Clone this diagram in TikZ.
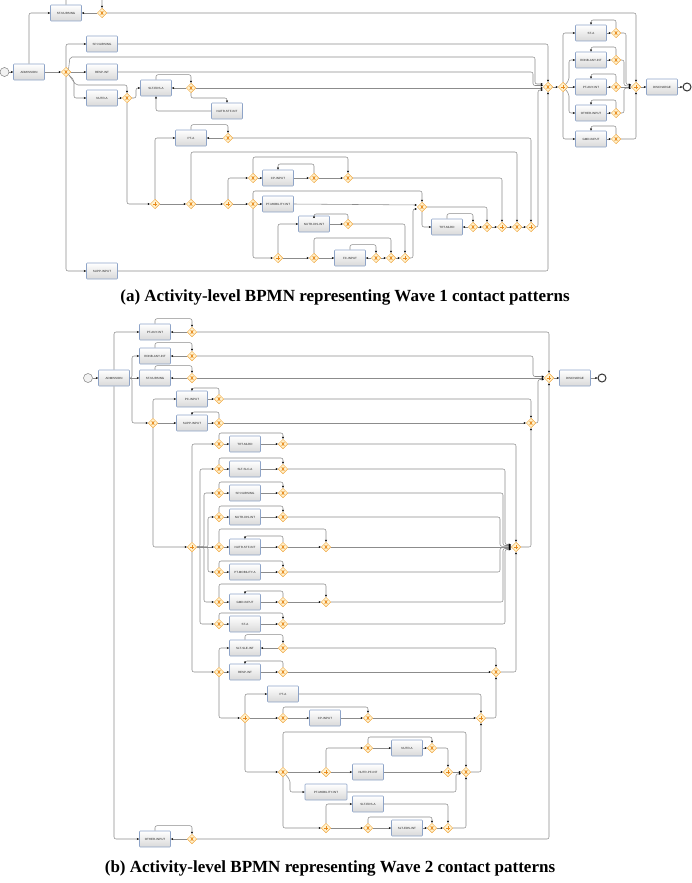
\documentclass[tikz,border=0pt]{standalone}
\usepackage{fontspec}
\setmainfont{Liberation Serif}
\setsansfont{Liberation Sans}
\usetikzlibrary{arrows.meta,shapes.geometric}
\definecolor{gwline}{HTML}{F0A43A}
\definecolor{gwfill}{HTML}{FFF3D0}
\definecolor{gwmark}{HTML}{E8891C}
\definecolor{boxline}{HTML}{8EA4C8}
\definecolor{flowgray}{HTML}{8C8C8C}
\begin{document}
\begin{tikzpicture}[x=1pt,y=-1pt,>={Stealth[length=2.4pt,width=2pt,color=black]},
  task/.style={rectangle, draw=boxline, line width=0.6pt, top color=white, bottom color=black!15, rounded corners=0.8pt, minimum width=31pt, minimum height=16pt, inner sep=0pt, text=black!85, font={\sffamily\fontsize{3}{3.4}\selectfont}},
  gate/.style={diamond, draw=gwline, fill=gwfill, line width=0.5pt, minimum size=9.5pt, inner sep=0pt},
  xgate/.style={gate, path picture={
    \draw[gwmark, line width=0.75pt] ([shift={(-1.3pt,-1.7pt)}]path picture bounding box.center) -- ([shift={(1.3pt,1.7pt)}]path picture bounding box.center);
    \draw[gwmark, line width=0.75pt] ([shift={(-1.3pt,1.7pt)}]path picture bounding box.center) -- ([shift={(1.3pt,-1.7pt)}]path picture bounding box.center);}},
  pgate/.style={gate, path picture={
    \draw[gwmark, line width=0.75pt] ([shift={(-2pt,0pt)}]path picture bounding box.center) -- ([shift={(2pt,0pt)}]path picture bounding box.center);
    \draw[gwmark, line width=0.75pt] ([shift={(0pt,-2pt)}]path picture bounding box.center) -- ([shift={(0pt,2pt)}]path picture bounding box.center);}},
  flow/.style={->, draw=flowgray, line width=0.55pt, rounded corners=2pt},
  startev/.style={circle, draw=gray, fill=black!5, line width=0.5pt, minimum size=9pt, inner sep=0pt},
  endev/.style={circle, draw=black!80, fill=white, line width=1pt, minimum size=8pt, inner sep=0pt}]
\useasboundingbox (0,0) rectangle (691,883);

% ---------------- Wave 1 ----------------
\draw (4.5,72) node[startev] (s1) {};
\draw (29,72) node[task] (adm1) {ADMISSION};
\draw (66,13) node[task] (stn1) {ST-NURSING};
\draw (102,13) node[xgate] (g1) {};
\draw (66,72) node[xgate] (g2) {};
\draw (102,44) node[task] (spn1) {SP-NURSING};
\draw (102,72) node[task] (resp1) {RESP-INT};
\draw (102,98) node[task] (nutra1) {NUTR-A};
\draw (127,98) node[xgate] (g3) {};
\draw (156,88) node[task] (slte1) {SLT-EDS-A};
\draw (191,88) node[xgate] (g4) {};
\draw (227,111) node[task] (nstf1) {NUTR-STF-INT};
\draw (155,204) node[pgate] (g5) {};
\draw (191,138) node[task] (pta1) {PT-A};
\draw (228,138) node[xgate] (g6) {};
\draw (191,204) node[xgate] (g7) {};
\draw (228,204) node[pgate] (g8) {};
\draw (253,178) node[xgate] (g9) {};
\draw (278,178) node[task] (cp1) {CP-INPUT};
\draw (314,178) node[xgate] (g10) {};
\draw (348,178) node[xgate] (g11) {};
\draw (253,204) node[xgate] (g12) {};
\draw (278,204) node[task] (ptmob1) {PT-MOBILITY-INT};
\draw (278,258) node[pgate] (g13) {};
\draw (314,224) node[task] (ndis1) {NUTR-DIS-INT};
\draw (348,224) node[xgate] (g14) {};
\draw (314,258) node[xgate] (g15) {};
\draw (350,258) node[task] (fc1) {FC-INPUT};
\draw (376,258) node[xgate] (g16) {};
\draw (391,258) node[xgate] (g17) {};
\draw (405,258) node[pgate] (g18) {};
\draw (422,207) node[xgate] (g19) {};
\draw (447,227) node[task] (trt1) {TRT-MLRD};
\draw (473,227) node[xgate] (g20) {};
\draw (487,227) node[xgate] (g21) {};
\draw (502,227) node[pgate] (g22) {};
\draw (517,227) node[xgate] (g23) {};
\draw (531,227) node[pgate] (g24) {};
\draw (102,271) node[task] (supp1) {SUPP-INPUT};
\draw (548,87) node[xgate] (g25) {};
\draw (563,87) node[pgate] (g26) {};
\draw (591,33) node[task] (sta1) {ST-A};
\draw (616,33) node[xgate] (g27) {};
\draw (591,60) node[task] (rdnb1) {RDNB-ANY-INT};
\draw (616,60) node[xgate] (g28) {};
\draw (591,87) node[task] (ptany1) {PT-ANY-INT};
\draw (616,87) node[xgate] (g29) {};
\draw (591,113) node[task] (oth1) {OTHER-INPUT};
\draw (616,113) node[xgate] (g30) {};
\draw (591,139) node[task] (gmd1) {GMD-INPUT};
\draw (616,139) node[xgate] (g31) {};
\draw (636,87) node[pgate] (g32) {};
\draw (662,87) node[task] (dis1) {DISCHARGE};
\draw (687,87) node[endev] (e1) {};

\draw[flow] (s1) -- (adm1);
\draw[flow] (adm1.north) |- (stn1.west);
\draw[flow] (stn1.north) -- ++(0,-10) -| (g1.north);
\draw[flow] (g1) -- (stn1);
\draw[flow] (g1.east) -| (g32.north);
\draw[flow] (adm1) -- (g2);
\draw[flow] (g2.north) |- (spn1.west);
\draw[flow] (spn1.east) -| (g25.north);
\draw[flow] (g2.north east) -- (70,57) -- (535,57) |- ([yshift=3pt]g25.west);
\draw[flow] (g2) -- (resp1);
\draw[flow] (resp1.east) -- (533,72) |- ([yshift=1.5pt]g25.west);
\draw[flow] (g2.south east) -- (74,80) |- (nutra1.west);
\draw[flow] (g2.south east) -- (76,85) -| (g3.north);
\draw[flow] (g2.south) |- (supp1.west);
\draw[flow] (supp1.east) -| (g25.south);
\draw[flow] (nutra1) -- (g3);
\draw[flow] (g3.east) -- ++(4,0) |- (slte1.west);
\draw[flow] (slte1.north) -- ++(0,-5) -| (g4.north);
\draw[flow] (g4) -- (slte1);
\draw[flow] (g4.east) -- ([yshift=-1pt]g25.west);
\draw[flow] (g4.south) -- (191,98) -| (nstf1.north);
\draw[flow] (nstf1.west) -| (slte1.south);
\draw[flow] (g3.south) |- (g5.west);
\draw[flow] (g5.north) |- (pta1.west);
\draw[flow] (pta1.north) -- ++(0,-5) -| (g6.north);
\draw[flow] (g6) -- (pta1);
\draw[flow] (g6.east) -| (g24.north);
\draw[flow] (g5) -- (g7);
\draw[flow] (g7) -- (g8);
\draw[flow] (g7.north) -- (191,152) -| (g23.north);
\draw[flow] (g8.north) |- (g9.west);
\draw[flow] (g9) -- (cp1);
\draw[flow] (cp1) -- (g10);
\draw[flow] (g10) -- (g11);
\draw[flow] (g9.north) -- (253,157) -| (g11.north);
\draw[flow] (g10.north) -- (314,164) -| (cp1.north);
\draw[flow] (g11.east) -| (g22.north);
\draw[flow] (g8) -- (g12);
\draw[flow] (g12) -- (ptmob1);
\draw[flow] (ptmob1.east) -- ([yshift=2pt]g19.west);
\draw[flow] (g12.north) -- (253,191) -| (g19.north);
\draw[flow] (g12.south) |- (g13.west);
\draw[flow] (g13.north) |- (ndis1.west);
\draw[flow] (ndis1) -- (g14);
\draw[flow] (g14.north) -- ++(0,-5) -| (ndis1.north);
\draw[flow] (g14.east) -| (g18.north);
\draw[flow] (g13) -- (g15);
\draw[flow] (g15) -- (fc1);
\draw[flow] (g15.north) -- (314,238) -| (g17.north);
\draw[flow] (fc1.north) -- ++(0,-5) -| (g16.north);
\draw[flow] (g16) -- (fc1);
\draw[flow] (g16) -- (g17);
\draw[flow] (g17) -- (g18);
\draw[flow] (g18.east) -- (413,258) |- ([yshift=-2pt]g19.west);
\draw[flow] (g19.east) -| (g21.north);
\draw[flow] (g19.south) |- (trt1.west);
\draw[flow] (trt1.north) -- ++(0,-5) -| (g20.north);
\draw[flow] (g20) -- (trt1);
\draw[flow] (g20) -- (g21);
\draw[flow] (g21) -- (g22);
\draw[flow] (g22) -- (g23);
\draw[flow] (g23) -- (g24);
\draw[flow] (g24.east) -- (538,227) |- ([yshift=-3pt]g25.west);
\draw[flow] (g25) -- (g26);
\draw[flow] (g26.north) |- (sta1.west);
\draw[flow] (g26.north east) -- (569,80) |- (rdnb1.west);
\draw[flow] (g26) -- (ptany1);
\draw[flow] (g26.south east) -- (569,94) |- (oth1.west);
\draw[flow] (g26.south) |- (gmd1.west);
\draw[flow] (sta1) -- (g27);
\draw[flow] (g27.north) -- ++(0,-8) -| (sta1.north);
\draw[flow] (rdnb1) -- (g28);
\draw[flow] (g28.north) -- ++(0,-8) -| (rdnb1.north);
\draw[flow] (ptany1) -- (g29);
\draw[flow] (g29.north) -- ++(0,-8) -| (ptany1.north);
\draw[flow] (oth1) -- (g30);
\draw[flow] (g30.north) -- ++(0,-8) -| (oth1.north);
\draw[flow] (gmd1) -- (g31);
\draw[flow] (g31.north) -- ++(0,-8) -| (gmd1.north);
\draw[flow] (g27.east) -- (626,33) |- ([yshift=2.5pt]g32.west);
\draw[flow] (g28.east) -- (624,60) |- ([yshift=1.2pt]g32.west);
\draw[flow] (g29) -- (g32);
\draw[flow] (g30.east) -- (624,113) |- ([yshift=-1.2pt]g32.west);
\draw[flow] (g31.east) -| (g32.south);
\draw[flow] (g32) -- (dis1);
\draw[flow] (dis1) -- (e1);

\draw (345,297) node[font={\bfseries\fontsize{17}{20}\selectfont}] (capa) {(a) Activity-level BPMN representing Wave 1 contact patterns};

% ---------------- Wave 2 ----------------
\draw (88,378) node[startev] (s2) {};
\draw (114,378) node[task] (adm2) {ADMISSION};
\draw (155,332) node[task] (ptany2) {PT-ANY-INT};
\draw (192,332) node[xgate] (h1) {};
\draw (155,356) node[task] (rdnb2) {RDNB-ANY-INT};
\draw (192,356) node[xgate] (h2) {};
\draw (155,378) node[task] (stn2) {ST-NURSING};
\draw (192,378) node[xgate] (h3) {};
\draw (153,423) node[xgate] (h4) {};
\draw (192,399) node[task] (pc2) {PC-INPUT};
\draw (219,399) node[xgate] (h5) {};
\draw (192,423) node[task] (supp2) {SUPP-INPUT};
\draw (219,423) node[xgate] (h6) {};
\draw (531,423) node[xgate] (h7) {};
\draw (549,378) node[pgate] (h0) {};
\draw (575,378) node[task] (dis2) {DISCHARGE};
\draw (602,378) node[endev] (e2) {};
\draw (192,547) node[pgate] (h8) {};
\draw (516,547) node[pgate] (hb) {};
% parallel rows
\draw (219,444) node[xgate] (x0) {}; \draw (245,444) node[task] (r0) {TRT-MLRD};      \draw (283,444) node[xgate] (y0) {};
\draw (219,469) node[xgate] (x1) {}; \draw (245,469) node[task] (r1) {SLT-SLC-A};     \draw (283,469) node[xgate] (y1) {};
\draw (219,493) node[xgate] (x2) {}; \draw (245,493) node[task] (r2) {SP-NURSING};    \draw (283,493) node[xgate] (y2) {};
\draw (219,517) node[xgate] (x3) {}; \draw (245,517) node[task] (r3) {NUTR-DIS-INT};  \draw (283,517) node[xgate] (y3) {};
\draw (219,547) node[xgate] (x4) {}; \draw (245,547) node[task] (r4) {NUTR-STF-INT};  \draw (283,547) node[xgate] (y4) {};
\draw (219,572) node[xgate] (x5) {}; \draw (245,572) node[task] (r5) {PT-MOBILITY-A}; \draw (283,572) node[xgate] (y5) {};
\draw (219,602) node[xgate] (x6) {}; \draw (245,602) node[task] (r6) {GMD-INPUT};     \draw (283,602) node[xgate] (y6) {};
\draw (219,624) node[xgate] (x7) {}; \draw (245,624) node[task] (r7) {ST-A};          \draw (283,624) node[xgate] (y7) {};
\draw (326,547) node[xgate] (z4) {};
\draw (326,602) node[xgate] (z6) {};
\draw (245,648) node[task] (slse2) {SLT-SLE-INT};
\draw (283,648) node[xgate] (w1) {};
\draw (219,672) node[xgate] (h9) {};
\draw (245,672) node[task] (resp2) {RESP-INT};
\draw (283,672) node[xgate] (w2) {};
\draw (496,672) node[xgate] (h10) {};
\draw (245,718) node[pgate] (h11) {};
\draw (283,694) node[task] (pta2) {PT-A};
\draw (283,718) node[xgate] (h12) {};
\draw (325,718) node[task] (cp2) {CP-INPUT};
\draw (368,718) node[xgate] (h13) {};
\draw (481,718) node[pgate] (h14) {};
\draw (283,772) node[xgate] (h15) {};
\draw (326,772) node[pgate] (h16) {};
\draw (368,748) node[xgate] (h17) {};
\draw (407,748) node[task] (nutra2) {NUTR-A};
\draw (432,748) node[xgate] (h18) {};
\draw (368,772) node[task] (npf2) {NUTR-PF-INT};
\draw (448,772) node[pgate] (h19) {};
\draw (466,772) node[xgate] (h20) {};
\draw (326,792) node[task, minimum width=42pt] (ptmob2) {PT-MOBILITY-INT};
\draw (326,828) node[pgate] (h21) {};
\draw (368,804) node[task] (slte2) {SLT-EDS-A};
\draw (368,828) node[xgate] (h22) {};
\draw (407,828) node[task] (slti2) {SLT-EDS-INT};
\draw (432,828) node[xgate] (h23) {};
\draw (448,828) node[pgate] (h24) {};
\draw (155,839) node[task] (oth2) {OTHER-INPUT};
\draw (192,839) node[xgate] (h25) {};

\draw[flow] (s2) -- (adm2);
\draw[flow] (adm2.north) |- (ptany2.west);
\draw[flow] (adm2.south) |- (oth2.west);
\draw[flow] (adm2.east) -- (132,378) |- (rdnb2.west);
\draw[flow] (adm2) -- (stn2);
\draw[flow] (adm2.east) -- (132,378) |- (h4.west);
\draw[flow] (ptany2.north) -- ++(0,-5) -| (h1.north);
\draw[flow] (h1) -- (ptany2);
\draw[flow] (rdnb2.north) -- ++(0,-5) -| (h2.north);
\draw[flow] (h2) -- (rdnb2);
\draw[flow] (stn2.north) -- ++(0,-4) -| (h3.north);
\draw[flow] (h3) -- (stn2);
\draw[flow] (h1.east) -| (h0.north);
\draw[flow] (h2.east) -- (533,356) |- ([yshift=1.5pt]h0.west);
\draw[flow] (h3) -- (h0);
\draw[flow] (h7.east) -- (538,423) |- ([yshift=-1.5pt]h0.west);
\draw[flow] (h0) -- (dis2);
\draw[flow] (dis2) -- (e2);
\draw[flow] (h4.north) |- (pc2.west);
\draw[flow] (h4) -- (supp2);
\draw[flow] (pc2) -- (h5);
\draw[flow] (h5.north) -- ++(0,-6) -| (pc2.north);
\draw[flow] (supp2) -- (h6);
\draw[flow] (h6.north) -- ++(0,-6) -| (supp2.north);
\draw[flow] (h5.east) -| (h7.north);
\draw[flow] (h6) -- (h7);
\draw[flow] (h4.south) |- (h8.west);
% fan out of the parallel split
\draw[flow] (h8.north) |- (x0.west);
\draw[flow] (h8.east) -- (200,547) |- (x1.west);
\draw[flow] (h8.east) -- (204,547) |- (x2.west);
\draw[flow] (h8.east) -- (208,547) |- (x3.west);
\draw[flow] (h8) -- (x4);
\draw[flow] (h8.east) -- (208,547) |- (x5.west);
\draw[flow] (h8.east) -- (204,547) |- (x6.west);
\draw[flow] (h8.east) -- (200,547) |- (x7.west);
\draw[flow] (h8.south) |- (h9.west);
\draw[flow] (x0) -- (r0); \draw[flow] (r0) -- (y0); \draw[flow] (x0.north) -- ++(0,-6) -| (y0.north);
\draw[flow] (x1) -- (r1); \draw[flow] (r1) -- (y1); \draw[flow] (x1.north) -- ++(0,-6) -| (y1.north);
\draw[flow] (x2) -- (r2); \draw[flow] (r2) -- (y2); \draw[flow] (x2.north) -- ++(0,-6) -| (y2.north);
\draw[flow] (x3) -- (r3); \draw[flow] (r3) -- (y3); \draw[flow] (x3.north) -- ++(0,-6) -| (y3.north);
\draw[flow] (x4) -- (r4); \draw[flow] (r4) -- (y4); \draw[flow] (y4) -- (z4);
\draw[flow] (x4.north) -- ++(0,-13) -| (z4.north); \draw[flow] (y4.north) -- ++(0,-6) -| (r4.north);
\draw[flow] (x5) -- (r5); \draw[flow] (r5) -- (y5); \draw[flow] (x5.north) -- ++(0,-6) -| (y5.north);
\draw[flow] (x6) -- (r6); \draw[flow] (r6) -- (y6); \draw[flow] (y6) -- (z6);
\draw[flow] (x6.north) -- ++(0,-13) -| (z6.north); \draw[flow] (y6.north) -- ++(0,-6) -| (r6.north);
\draw[flow] (x7) -- (r7); \draw[flow] (r7) -- (y7); \draw[flow] (x7.north) -- ++(0,-6) -| (y7.north);
% join of the rows
\draw[flow] (y0.east) -| (hb.north);
\draw[flow] (y1.east) -- (505,469) |- ([yshift=2.5pt]hb.west);
\draw[flow] (y2.east) -- (503,493) |- ([yshift=1.5pt]hb.west);
\draw[flow] (y3.east) -- (500,517) |- ([yshift=0.7pt]hb.west);
\draw[flow] (z4) -- (hb);
\draw[flow] (y5.east) -- (500,572) |- ([yshift=-0.7pt]hb.west);
\draw[flow] (z6.east) -- (503,602) |- ([yshift=-1.5pt]hb.west);
\draw[flow] (y7.east) -- (505,624) |- ([yshift=-2.5pt]hb.west);
\draw[flow] (hb.east) -| (h7.south);
\draw[flow] (h9.north) |- (slse2.west);
\draw[flow] (slse2.north) -- ++(0,-5) -| (w1.north);
\draw[flow] (w1) -- (slse2);
\draw[flow] (w1.east) -| (h10.north);
\draw[flow] (h9) -- (resp2);
\draw[flow] (resp2) -- (w2);
\draw[flow] (w2.north) -- ++(0,-6) -| (resp2.north);
\draw[flow] (w2) -- (h10);
\draw[flow] (h10.east) -| (hb.south);
\draw[flow] (h9.south) |- (h11.west);
\draw[flow] (h11.north) |- (pta2.west);
\draw[flow] (pta2.east) -| (h14.north);
\draw[flow] (h11) -- (h12);
\draw[flow] (h12) -- (cp2);
\draw[flow] (cp2) -- (h13);
\draw[flow] (h12.north) -- ++(0,-6) -| (h13.north);
\draw[flow] (h13) -- (h14);
\draw[flow] (h14.east) -| (h10.south);
\draw[flow] (h11.south) |- (h15.west);
\draw[flow] (h15.north) -- (283,732) -| (h20.north);
\draw[flow] (h15) -- (h16);
\draw[flow] (h16) -- (npf2);
\draw[flow] (npf2) -- (h19);
\draw[flow] (h16.north) |- (h17.west);
\draw[flow] (h17) -- (nutra2);
\draw[flow] (nutra2) -- (h18);
\draw[flow] (h17.north) -- ++(0,-6) -| (h18.north);
\draw[flow] (h18.east) -| (h19.north);
\draw[flow] (h19) -- (h20);
\draw[flow] (h15.south east) -- (290,780) |- (ptmob2.west);
\draw[flow] (ptmob2.east) -- (456,792) |- ([yshift=-1.8pt]h20.west);
\draw[flow] (h15.south) |- (h21.west);
\draw[flow] (h21.north) |- (slte2.west);
\draw[flow] (slte2.east) -| (h24.north);
\draw[flow] (h21) -- (h22);
\draw[flow] (h22) -- (slti2);
\draw[flow] (slti2) -- (h23);
\draw[flow] (h22.north) -- ++(0,-6) -| (h23.north);
\draw[flow] (h23) -- (h24);
\draw[flow] (h24.east) -| (h20.south);
\draw[flow] (h20.east) -| (h14.south);
\draw[flow] (oth2.north) -- ++(0,-5) -| (h25.north);
\draw[flow] (h25) -- (oth2);
\draw[flow] (h25.east) -| (h0.south);

\draw (330,868) node[font={\bfseries\fontsize{17}{20}\selectfont}] (capb) {(b) Activity-level BPMN representing Wave 2 contact patterns};
\end{tikzpicture}
\end{document}
